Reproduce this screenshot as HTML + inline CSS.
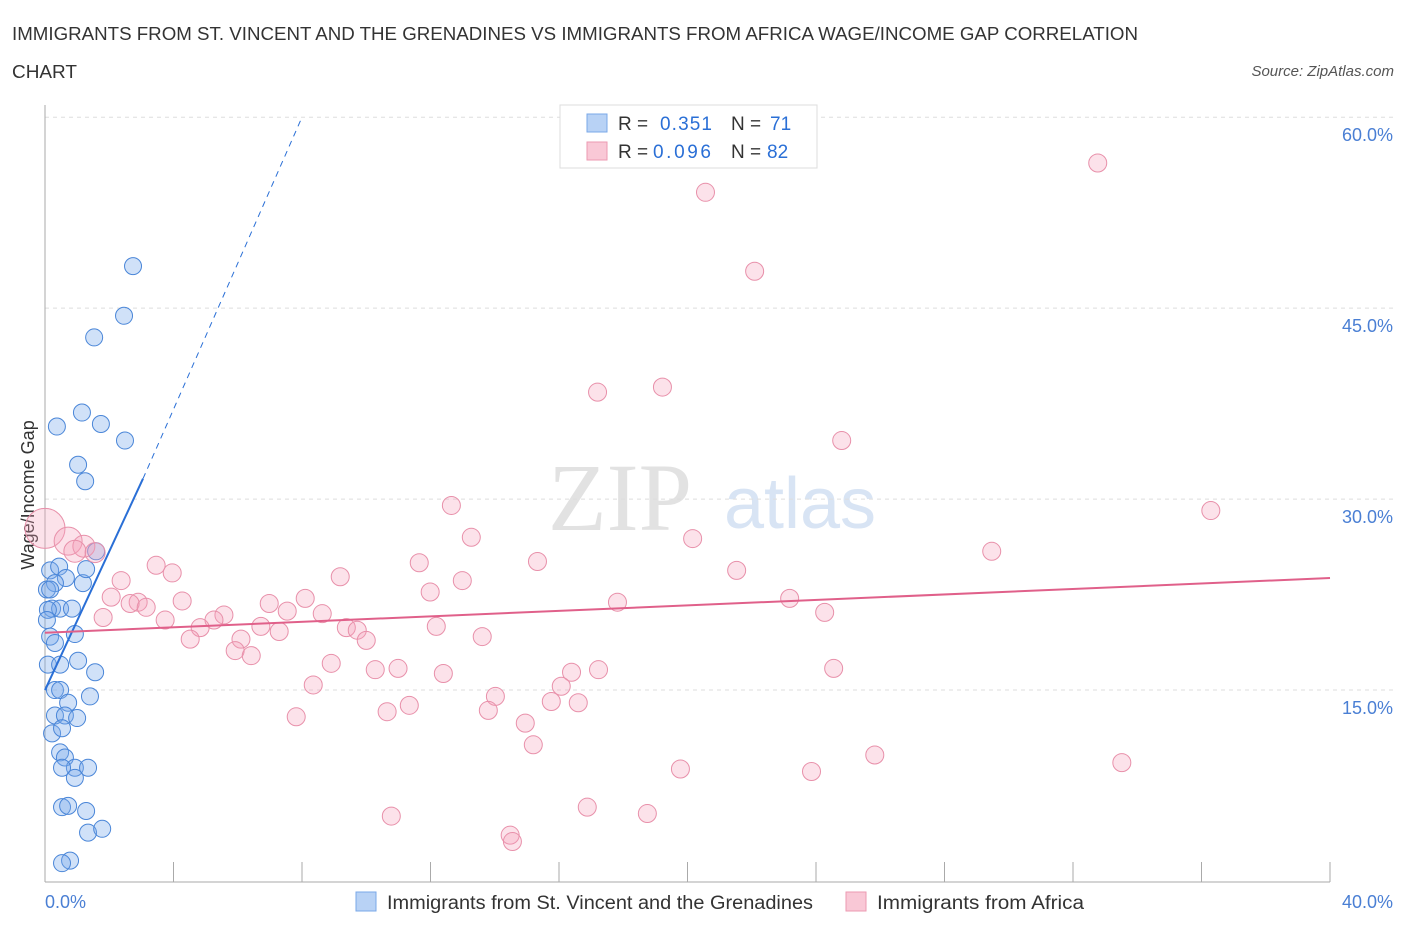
<!DOCTYPE html>
<html><head><meta charset="utf-8"><style>
body{margin:0;background:#fff;font-family:"Liberation Sans",sans-serif}
svg{display:block}
</style></head><body>
<svg id="c" width="1406" height="930"></svg>
<script>
const blueX=[2.74,2.46,1.53,1.15,0.37,1.74,2.49,1.03,1.25,1.59,0.16,0.44,0.65,1.18,0.31,0.22,0.47,0.84,0.09,0.16,0.31,0.93,1.03,0.09,0.47,1.56,0.31,0.47,1.40,0.72,0.31,0.62,1.0,0.22,0.53,0.47,0.62,0.93,1.34,0.53,0.93,0.53,0.72,1.28,1.34,1.78,0.78,0.53,0.06,0.06,0.16,1.28];
const blueY=[48.3,44.4,42.7,36.8,35.7,35.9,34.6,32.7,31.4,25.9,24.4,24.7,23.8,23.4,23.4,21.4,21.4,21.4,21.3,19.2,18.7,19.4,17.3,17.0,17.0,16.4,15.0,15.0,14.5,14.0,13.0,13.0,12.8,11.6,12.0,10.1,9.7,8.9,8.9,8.9,8.1,5.8,5.9,5.5,3.8,4.1,1.6,1.4,22.9,20.5,22.9,24.5];
const pinkX=[32.77,20.56,22.09,17.2,19.22,24.8,12.65,36.29,13.27,20.16,29.47,15.33,11.65,21.53,3.46,3.96,2.37,9.19,12.99,11.99,2.06,4.27,8.1,17.82,23.18,2.9,2.65,3.15,6.98,7.54,8.63,24.27,3.74,1.81,5.57,5.26,4.83,6.72,7.29,9.38,9.72,12.18,4.52,6.1,10.0,13.61,5.92,6.42,8.91,10.28,10.99,12.4,16.39,17.23,24.55,8.35,16.07,14.02,15.76,16.6,13.8,11.34,10.65,7.82,14.95,15.2,25.83,19.78,23.86,33.52,16.88,18.75,10.78,14.48,14.55,0,0.72,1.21,0.93,1.56];
const pinkY=[56.4,54.1,47.9,38.4,38.8,34.6,29.5,29.1,27.0,26.9,25.9,25.1,25.0,24.4,24.8,24.2,23.6,23.9,23.6,22.7,22.3,22.0,22.2,21.9,22.2,21.9,21.8,21.5,21.8,21.2,21.0,21.1,20.5,20.7,20.9,20.5,19.9,20.0,19.6,19.9,19.7,20.0,19.0,19.0,18.9,19.2,18.1,17.7,17.1,16.6,16.7,16.3,16.4,16.6,16.7,15.4,15.3,14.5,14.1,14.0,13.4,13.8,13.3,12.9,12.4,10.7,9.9,8.8,8.6,9.3,5.8,5.3,5.1,3.6,3.1,27.7,26.7,26.3,25.9,25.8];
const pinkR=[9,9,9,9,9,9,9,9,9,9,9,9,9,9,9,9,9,9,9,9,9,9,9,9,9,9,9,9,9,9,9,9,9,9,9,9,9,9,9,9,9,9,9,9,9,9,9,9,9,9,9,9,9,9,9,9,9,9,9,9,9,9,9,9,9,9,9,9,9,9,9,9,9,9,9,20,14,11,11,10];
const yTicks=[15,30,45,60];
const xTicks=[0,40];
const blueTrend=[[0,15.0],[3.05,31.6],[8.0,60]];
const pinkTrend=[[0,19.5],[40,23.8]];
const X=v=>45+v*32.125, Y=v=>881-v*12.73;
const NS='http://www.w3.org/2000/svg', s=document.getElementById('c');
function mk(t,a,p){const e=document.createElementNS(NS,t);for(const k in a)e.setAttribute(k,a[k]);(p||s).appendChild(e);return e;}
function tx(x,y,str,a){const e=mk('text',Object.assign({x:x,y:y},a));e.textContent=str;return e;}
let t=tx(12,40,'IMMIGRANTS FROM ST. VINCENT AND THE GRENADINES VS IMMIGRANTS FROM AFRICA WAGE/INCOME GAP CORRELATION',{'font-size':18,fill:'#333',textLength:1126,lengthAdjust:'spacingAndGlyphs'});

t=tx(12,78,'CHART',{'font-size':18,fill:'#333',textLength:65,lengthAdjust:'spacingAndGlyphs'});

t=tx(1394,76,'Source: ZipAtlas.com',{'font-size':15,fill:'#555','font-style':'italic','text-anchor':'end'});

t=tx(620,530,'ZIP',{'font-size':96,fill:'#e2e2e2','font-family':'Liberation Serif','text-anchor':'middle'});

t=tx(800,528,'atlas',{'font-size':72,fill:'#d8e4f4','text-anchor':'middle'});

yTicks.forEach(v=>{let l=mk('line',{x1:45,x2:1395,y1:Y(v),y2:Y(v),stroke:'#ddd','stroke-dasharray':'4,4'});

let e=tx(1393,Y(v)+24,v.toFixed(1)+'%',{'font-size':18,fill:'#4a7fd4','text-anchor':'end'});
});
let ax=mk('line',{x1:45,x2:45,y1:105,y2:882,stroke:'#aaa'});
ax=mk('line',{x1:45,x2:1330,y1:882,y2:882,stroke:'#aaa'});
for(let i=0;i<=10;i++){let l=mk('line',{x1:45+i*128.5,x2:45+i*128.5,y1:862,y2:882,stroke:'#aaa'});}
xTicks.forEach((v,i)=>{let e=tx(i?1393:45,908,v.toFixed(1)+'%',{'font-size':18,fill:'#4a7fd4','text-anchor':i?'end':'start'});
});
t=tx(34,495,'Wage/Income Gap',{'font-size':18,fill:'#333','text-anchor':'middle',transform:'rotate(-90 34 495)'});

blueX.forEach((v,i)=>{let c=mk('circle',{cx:X(v),cy:Y(blueY[i]),r:8.5,fill:'rgba(120,170,235,0.35)',stroke:'#4a86d8','stroke-width':1});
});
pinkX.forEach((v,i)=>{let c=mk('circle',{cx:X(v),cy:Y(pinkY[i]),r:pinkR[i],fill:'rgba(245,160,185,0.3)',stroke:'#e890aa','stroke-width':1});
});
let b=mk('line',{x1:X(blueTrend[0][0]),y1:Y(blueTrend[0][1]),x2:X(blueTrend[1][0]),y2:Y(blueTrend[1][1]),stroke:'#2a6fd6','stroke-width':2});

b=mk('line',{x1:X(blueTrend[1][0]),y1:Y(blueTrend[1][1]),x2:X(blueTrend[2][0]),y2:Y(blueTrend[2][1]),stroke:'#2a6fd6','stroke-width':1,'stroke-dasharray':'6,5'});

b=mk('line',{x1:X(pinkTrend[0][0]),y1:Y(pinkTrend[0][1]),x2:X(pinkTrend[1][0]),y2:Y(pinkTrend[1][1]),stroke:'#e0608a','stroke-width':2});

let g=mk('g',{});
mk('rect',{x:560,y:105,width:257,height:63,fill:'#fff',stroke:'#ddd'},g);
mk('rect',{x:587,y:114,width:20,height:18,fill:'#b8d2f5',stroke:'#7aa8e8'},g);
mk('rect',{x:587,y:142,width:20,height:18,fill:'#f9c8d6',stroke:'#ec9ab2'},g);
tx(618,130,'R = ',{'font-size':19,fill:'#333'},g);tx(660,130,'0.351',{'font-size':19,fill:'#2a6fd6',textLength:52},g);
tx(731,130,'N = ',{'font-size':19,fill:'#333'},g);tx(770,130,'71',{'font-size':19,fill:'#2a6fd6'},g);
tx(618,158,'R = ',{'font-size':19,fill:'#333'},g);tx(653,158,'0.096',{'font-size':19,fill:'#2a6fd6',textLength:58},g);
tx(731,158,'N = ',{'font-size':19,fill:'#333'},g);tx(767,158,'82',{'font-size':19,fill:'#2a6fd6'},g);
g=mk('g',{});
mk('rect',{x:356,y:892,width:20,height:19,fill:'#b8d2f5',stroke:'#7aa8e8'},g);
tx(387,909,'Immigrants from St. Vincent and the Grenadines',{'font-size':19,fill:'#333',textLength:426,lengthAdjust:'spacingAndGlyphs'},g);
mk('rect',{x:846,y:892,width:20,height:19,fill:'#f9c8d6',stroke:'#ec9ab2'},g);
tx(877,909,'Immigrants from Africa',{'font-size':19,fill:'#333',textLength:207,lengthAdjust:'spacingAndGlyphs'},g);
</script>
</body></html>
